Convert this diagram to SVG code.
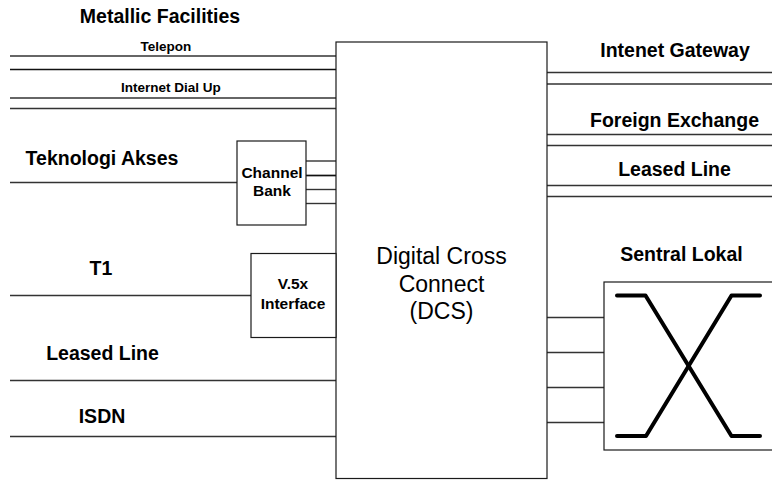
<svg xmlns="http://www.w3.org/2000/svg" width="772" height="481" viewBox="0 0 772 481">
  <style>
    .bg { fill: #ffffff; }
    .box { fill: #ffffff; stroke: #1a1a1a; stroke-width: 1.2; }
    .wire { stroke: #333333; stroke-width: 1.4; fill: none; }
    .wire-dark { stroke: #111111; stroke-width: 1.7; fill: none; }
    .xbar { stroke: #000000; stroke-width: 4; fill: none; stroke-linecap: round; stroke-linejoin: round; }
    .lbl { font-family: "Liberation Sans", Arial, sans-serif; font-weight: bold; fill: #000000; text-anchor: middle; }
    .big { font-size: 19.5px; }
    .small { font-size: 13.5px; }
    .mid { font-size: 15.5px; }
    .dcs { font-family: "Liberation Sans", Arial, sans-serif; font-size: 23px; fill: #000000; text-anchor: middle; }
  </style>
  <rect class="bg" x="0" y="0" width="772" height="481"/>

  <!-- connectors -->
  <g id="connectors">
    <!-- metallic facilities -->
    <line class="wire" x1="10" y1="56" x2="336" y2="56"/>
    <line class="wire-dark" x1="10" y1="69.5" x2="336" y2="69.5"/>
    <line class="wire" x1="10" y1="98" x2="336" y2="98"/>
    <line class="wire" x1="10" y1="108.5" x2="336" y2="108.5"/>
    <!-- access technology -->
    <line class="wire" x1="10" y1="182.5" x2="237" y2="182.5"/>
    <line class="wire" x1="306" y1="161" x2="336" y2="161"/>
    <line class="wire-dark" x1="306" y1="175.5" x2="336" y2="175.5"/>
    <line class="wire" x1="306" y1="189.5" x2="336" y2="189.5"/>
    <line class="wire" x1="306" y1="203.5" x2="336" y2="203.5"/>
    <!-- T1 -->
    <line class="wire" x1="10" y1="295.5" x2="251" y2="295.5"/>
    <!-- leased line / ISDN -->
    <line class="wire" x1="10" y1="380.5" x2="336" y2="380.5"/>
    <line class="wire" x1="10" y1="436.5" x2="336" y2="436.5"/>
    <!-- right side services -->
    <line class="wire" x1="547" y1="72.5" x2="772" y2="72.5"/>
    <line class="wire" x1="547" y1="84" x2="772" y2="84"/>
    <line class="wire" x1="547" y1="134.5" x2="772" y2="134.5"/>
    <line class="wire" x1="547" y1="145.5" x2="772" y2="145.5"/>
    <line class="wire" x1="547" y1="185.5" x2="772" y2="185.5"/>
    <line class="wire" x1="547" y1="196.5" x2="772" y2="196.5"/>
    <!-- to local exchange -->
    <line class="wire" x1="547" y1="317.5" x2="604" y2="317.5"/>
    <line class="wire" x1="547" y1="352.5" x2="604" y2="352.5"/>
    <line class="wire" x1="547" y1="387.5" x2="604" y2="387.5"/>
    <line class="wire" x1="547" y1="422.5" x2="604" y2="422.5"/>
  </g>

  <!-- labels -->
  <g id="labels">
    <text class="lbl big" x="160" y="23">Metallic Facilities</text>
    <text class="lbl small" x="166" y="51">Telepon</text>
    <text class="lbl small" x="171" y="92">Internet Dial Up</text>
    <text class="lbl big" x="102" y="164.5">Teknologi Akses</text>
    <text class="lbl big" x="101" y="275">T1</text>
    <text class="lbl big" x="102.5" y="360">Leased Line</text>
    <text class="lbl big" x="102" y="423">ISDN</text>
    <text class="lbl big" x="675" y="56.5">Intenet Gateway</text>
    <text class="lbl big" x="674.5" y="126.5">Foreign Exchange</text>
    <text class="lbl big" x="674.5" y="175.5">Leased Line</text>
    <text class="lbl big" x="681.5" y="260.5">Sentral Lokal</text>
  </g>

  <g id="dcs">
    <rect class="box" x="336" y="42" width="211" height="436.5"/>
    <text class="dcs" x="441.5" y="264">Digital Cross</text>
    <text class="dcs" x="441.5" y="292">Connect</text>
    <text class="dcs" x="441.5" y="319">(DCS)</text>
  </g>

  <g id="channel-bank">
    <rect class="box" x="237" y="141" width="69" height="84"/>
    <text class="lbl mid" x="272" y="177.5">Channel</text>
    <text class="lbl mid" x="272" y="195.5">Bank</text>
  </g>

  <g id="v5x-interface">
    <rect class="box" x="251" y="253.5" width="85" height="84"/>
    <text class="lbl mid" x="293" y="288.5">V.5x</text>
    <text class="lbl mid" x="293" y="308.5">Interface</text>
  </g>

  <g id="sentral-lokal">
    <rect class="box" x="604" y="282" width="175" height="168"/>
    <polyline class="xbar" points="617,295.5 645.5,295.5 731.5,436 760,436"/>
    <polyline class="xbar" points="617,436 646,436 731.5,295.5 760,295.5"/>
  </g>
</svg>
